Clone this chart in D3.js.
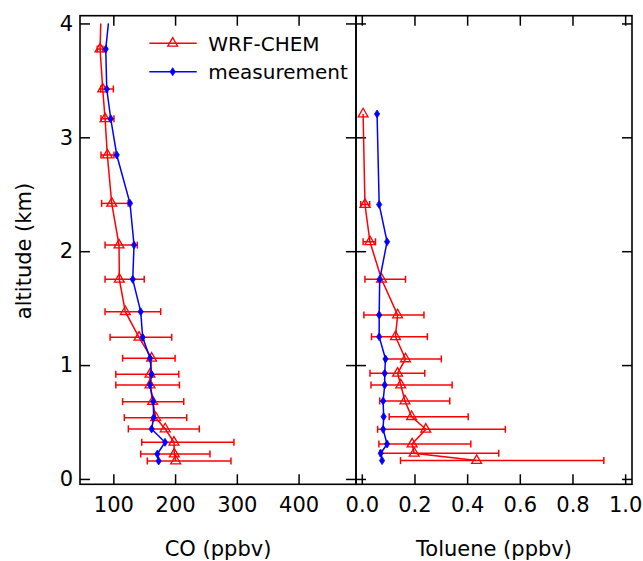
<!DOCTYPE html>
<html><head><meta charset="utf-8">
<script src="https://cdn.jsdelivr.net/npm/d3@7"></script>
<style>
body{margin:0;background:#fff}
svg{display:block}
text{font-family:"DejaVu Sans",sans-serif;fill:#000}
</style>
</head><body><svg width="643" height="561"></svg>
<script>
// ---------- data ----------
const altTicks = [0, 1, 2, 3, 4];
const coTicks = [100, 200, 300, 400];
const tolTicks = [0, 0.2, 0.4, 0.6, 0.8, 1.0];

// CO panel: line extension above the top marker (no marker)
const coTopAlt = [4.0];
const coModelTop = [79.6];
const coMeasTop = [92];

const coAlt = [3.775, 3.424, 3.163, 2.845, 2.42, 2.054, 1.753, 1.469, 1.244, 1.06, 0.919, 0.825, 0.679, 0.538, 0.439, 0.322, 0.219, 0.158];
const coModel = [78.5, 82.8, 86.6, 90.3, 97.4, 109.2, 109.7, 119.4, 141.6, 162, 159.4, 159.4, 163.7, 168.6, 184, 198.2, 198.7, 201];
const coModelLo = [74, 79.6, 80, 80, 81, 86.6, 86.6, 86.6, 94.7, 115, 104, 104, 115, 117.8, 124.3, 146, 144.3, 155];
const coModelHi = [83, 100, 101, 101, 124, 138.8, 150, 176.7, 194.5, 200, 206, 207, 214, 218.8, 239.2, 295.3, 256.5, 290.5];
const coMeas = [87.7, 89.3, 95.8, 105.5, 127, 133.5, 131.4, 144.3, 147.5, 159.4, 162, 159.4, 164.7, 165.3, 162, 183.7, 171.2, 173.4];

// Toluene panel
const tolAlt = [3.205, 2.41, 2.083, 1.753, 1.44, 1.249, 1.054, 0.928, 0.825, 0.685, 0.547, 0.436, 0.307, 0.226, 0.161];
const tolModel = [0.005, 0.012, 0.031, 0.075, 0.136, 0.128, 0.166, 0.136, 0.148, 0.164, 0.189, 0.243, 0.191, 0.199, 0.436];
const tolModelLo = [null, -0.004, 0.005, 0.012, 0.008, 0.037, 0.088, 0.031, 0.035, 0.068, 0.104, 0.060, 0.065, 0.069, 0.147];
const tolModelHi = [null, 0.030, 0.052, 0.166, 0.236, 0.249, 0.302, 0.239, 0.343, 0.334, 0.404, 0.545, 0.414, 0.520, 0.919];
const tolMeas = [0.058, 0.066, 0.096, 0.068, 0.066, 0.066, 0.090, 0.087, 0.087, 0.081, 0.083, 0.081, 0.096, 0.072, 0.077];

const legendLabels = ["WRF-CHEM", "measurement"];

// ---------- drawing ----------
const RED = "#ff0000", BLUE = "#0000ff";
const svg = d3.select("svg");
const yTop = 15.7, yBot = 484.3;
const y = d3.scaleLinear().domain([-0.047, 4.068]).range([yBot, yTop]);
const xCO = d3.scaleLinear().domain([46, 493]).range([80, 356]);
const xTol = d3.scaleLinear().domain([-0.022, 1.026]).range([356, 632]);

const diamond = "M0,-4L2.6,0L0,4L-2.6,0Z";
const tri = d3.symbol().type(d3.symbolTriangle).size(42);

function panel(x, fmt, xticks, showY, lineAlt, model, lo, hi, meas, topAlt, modelTop, measTop) {
  const [x0, x1] = x.range();
  const g = svg.append("g");
  const styleAxis = sel => {
    sel.select(".domain").remove();
    sel.selectAll(".tick line").attr("stroke", "#000").attr("stroke-width", 1.5);
    sel.selectAll(".tick text").style("font-size", "21px").style("font-family", "DejaVu Sans");
  };
  g.append("g").attr("transform", `translate(${x0},0)`)
    .call(d3.axisLeft(y).tickValues(altTicks).tickSize(-10).tickPadding(7)
      .tickFormat(showY ? d3.format("d") : ""))
    .call(styleAxis);
  g.append("g").attr("transform", `translate(${x1},0)`)
    .call(d3.axisRight(y).tickValues(altTicks).tickSize(-10).tickFormat(""))
    .call(styleAxis);
  g.append("g").attr("transform", `translate(0,${yBot})`)
    .call(d3.axisBottom(x).tickValues(xticks).tickSize(-10).tickPadding(13).tickFormat(fmt))
    .call(styleAxis);
  g.append("g").attr("transform", `translate(0,${yTop})`)
    .call(d3.axisTop(x).tickValues(xticks).tickSize(-10).tickFormat(""))
    .call(styleAxis);
  g.append("rect").attr("x", x0).attr("y", yTop).attr("width", x1 - x0).attr("height", yBot - yTop)
    .attr("fill", "none").attr("stroke", "#000").attr("stroke-width", 1.6);

  const line = d3.line().x(d => x(d[0])).y(d => y(d[1]));
  const modelPts = topAlt.map((a, i) => [modelTop[i], a]).concat(lineAlt.map((a, i) => [model[i], a]));
  const measPts = topAlt.map((a, i) => [measTop[i], a]).concat(lineAlt.map((a, i) => [meas[i], a]));

  // model error bars
  const eb = g.append("g").attr("stroke", RED).attr("stroke-width", 1.5).attr("fill", "none");
  lineAlt.forEach((a, i) => {
    if (lo[i] == null) return;
    const yy = y(a), xa = x(lo[i]), xb = x(hi[i]);
    eb.append("line").attr("x1", xa).attr("x2", xb).attr("y1", yy).attr("y2", yy);
    eb.append("line").attr("x1", xa).attr("x2", xa).attr("y1", yy - 3.5).attr("y2", yy + 3.5);
    eb.append("line").attr("x1", xb).attr("x2", xb).attr("y1", yy - 3.5).attr("y2", yy + 3.5);
  });
  g.append("path").attr("d", line(modelPts)).attr("fill", "none").attr("stroke", RED).attr("stroke-width", 1.5);
  g.append("g").selectAll("path").data(lineAlt).join("path")
    .attr("d", tri).attr("transform", (a, i) => `translate(${x(model[i])},${y(a)})`)
    .attr("fill", "none").attr("stroke", RED).attr("stroke-width", 1.3);

  g.append("path").attr("d", line(measPts)).attr("fill", "none").attr("stroke", BLUE).attr("stroke-width", 1.5);
  g.append("g").selectAll("path").data(lineAlt).join("path")
    .attr("d", diamond).attr("transform", (a, i) => `translate(${x(meas[i])},${y(a)})`)
    .attr("fill", BLUE).attr("stroke", BLUE).attr("stroke-width", 0.8);
}

panel(xCO, d3.format("d"), coTicks, true, coAlt, coModel, coModelLo, coModelHi, coMeas, coTopAlt, coModelTop, coMeasTop);
panel(xTol, d3.format(".1f"), tolTicks, false, tolAlt, tolModel, tolModelLo, tolModelHi, tolMeas, [], [], []);

// axis titles
svg.append("text").attr("x", 218).attr("y", 556).attr("text-anchor", "middle")
  .style("font-size", "21px").text("CO (ppbv)");
svg.append("text").attr("x", 494).attr("y", 556).attr("text-anchor", "middle")
  .style("font-size", "21px").text("Toluene (ppbv)");
svg.append("text").attr("transform", "translate(31,251) rotate(-90)").attr("text-anchor", "middle")
  .style("font-size", "21px").text("altitude (km)");

// legend
const leg = svg.append("g");
const legY = [43.3, 71.7];
[RED, BLUE].forEach((c, i) => {
  leg.append("line").attr("x1", 149.3).attr("x2", 196.7).attr("y1", legY[i]).attr("y2", legY[i])
    .attr("stroke", c).attr("stroke-width", 1.5);
  if (i === 0) {
    leg.append("path").attr("d", tri).attr("transform", `translate(172.7,${legY[i]})`)
      .attr("fill", "none").attr("stroke", c).attr("stroke-width", 1.3);
  } else {
    leg.append("path").attr("d", diamond).attr("transform", `translate(172.7,${legY[i]})`)
      .attr("fill", c).attr("stroke", c).attr("stroke-width", 0.8);
  }
  leg.append("text").attr("x", 208.3).attr("y", legY[i] + 7.5).style("font-size", "20px").text(legendLabels[i]);
});
</script>
</body></html>
